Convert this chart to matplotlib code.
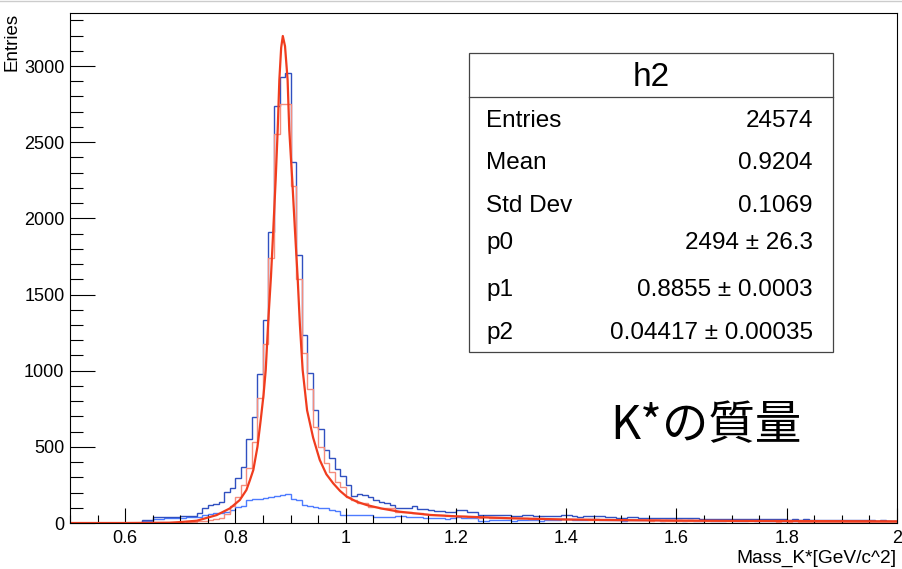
import numpy as np
import matplotlib
matplotlib.use('Agg')
import matplotlib.pyplot as plt
from matplotlib.ticker import MultipleLocator, FuncFormatter
from matplotlib.patches import Rectangle
from matplotlib.lines import Line2D

# Histogramm-Daten (Bins der Breite 0.01 von 0.5 bis 2.0)
bin_start = 0.5
bin_width = 0.01

total_counts = [0] * 13 + [
    20, 22, 40, 38, 41, 40, 42, 45, 46, 48,
    68, 96, 120, 126, 140, 205, 228, 293, 370, 549,
    698, 976, 1333, 1912, 2737, 2930, 2952, 2368, 1757, 1234,
    985, 740, 615, 479, 425, 352, 309, 249, 177, 190,
    184, 173, 151, 140, 129, 118, 96, 96, 96, 112, 90,
    90, 85, 80, 76, 72, 70, 86, 84, 75, 74, 50, 52, 54, 52, 54, 50,
    48, 48, 52, 51, 46, 46, 47, 48, 46, 50, 51, 47, 41, 44, 48, 45,
    43, 38, 41, 36, 35, 38, 41, 36, 35, 36, 35, 32, 36, 35, 31, 30,
    31, 30, 27, 29, 29, 25, 29, 29, 26, 23, 27, 27, 24, 25, 23, 24,
    25, 23, 20, 24, 21, 23, 22, 19, 21, 22, 19, 18, 20, 19, 19, 17,
    19, 18, 15, 19, 16, 14]

signal_counts = [0] * 20 + [
    3, 5, 8, 12, 15, 20, 25, 32, 58, 112,
    173, 249, 359, 534, 819, 1173, 1738, 2552, 2750, 2750,
    2212, 1603, 1114, 880, 632, 500, 392, 337, 271, 234,
    173, 151, 129, 129, 107, 107, 96, 96, 96, 74, 74, 74, 63, 63,
    60, 55, 52, 52, 48, 46, 45, 44, 42, 40, 36, 38, 36, 35, 34, 33,
    34, 30, 31, 29, 28, 30, 27, 26, 27, 25, 24, 25, 23, 24, 22, 21,
    22, 20, 21, 19, 20, 18, 19, 17, 18, 16, 17, 16, 15, 16, 14, 15,
    13, 14, 13, 12, 14, 12, 13, 11, 12, 11, 12, 10, 11, 10, 11, 10,
    9, 10, 9, 10, 9, 8, 9, 8, 9, 8, 7, 8, 7, 8, 7, 7,
    6, 7, 6, 7, 6, 6]

background_counts = [0] * 13 + [
    10, 15, 25, 28, 30, 30, 32, 36, 38, 40,
    42, 55, 58, 63, 66, 74, 85, 105, 112, 150,
    155, 160, 162, 172, 175, 184, 190, 160, 150, 118,
    110, 108, 96, 96, 85, 80, 55, 52, 50, 52,
    55, 52, 40, 38, 37, 37, 45, 45, 40, 37, 37,
    36, 34, 33, 30, 28, 30, 38, 36, 32, 30, 12, 16, 18, 17, 20, 17,
    14, 18, 20, 22, 18, 16, 20, 22, 19, 24, 27, 22, 18, 20, 26, 24,
    21, 18, 20, 17, 15, 20, 22, 19, 17, 20, 18, 16, 21, 19, 17, 15,
    18, 16, 14, 17, 15, 13, 16, 18, 14, 12, 15, 17, 13, 15, 12, 14,
    16, 13, 11, 14, 12, 15, 13, 11, 12, 14, 12, 10, 13, 11, 12, 10,
    13, 11, 9, 12, 10, 8]

# Fitkurve
fit_x = [0.50, 0.60, 0.68, 0.70, 0.73, 0.766, 0.79, 0.808, 0.82, 0.8264,
         0.8325, 0.840, 0.8459, 0.851, 0.855, 0.8597, 0.8645, 0.8687, 0.873, 0.8767,
         0.8797, 0.883, 0.886, 0.890, 0.8947, 0.8977, 0.9031, 0.908, 0.9128, 0.917,
         0.922, 0.930, 0.941, 0.953, 0.965, 0.9775, 0.99, 1.002, 1.02, 1.038,
         1.065, 1.098, 1.153, 1.20, 1.30, 1.40, 1.50, 1.60, 1.70, 1.80,
         1.90, 2.00]
fit_y = [0, 0, 2, 6, 15, 52, 96, 151, 217, 282,
         348, 500, 676, 840, 1004, 1333, 1617, 1923, 2252, 2580,
         2908, 3120, 3197, 3130, 2908, 2580, 2252, 1923, 1617, 1300,
         1004, 740, 560, 414, 320, 260, 210, 173, 140, 118,
         95, 74, 53, 44, 31, 23, 19, 16, 14, 13,
         12, 11]

# Statistik-Box
stat_names = ['Entries', 'Mean', 'Std Dev', 'p0', 'p1', 'p2']
stat_values = ['24574', '0.9204', '0.1069', '2494 ± 26.3', '0.8855 ± 0.0003', '0.04417 ± 0.00035']

plt.rcParams['font.family'] = ['Liberation Sans', 'DejaVu Sans']

W, H = 903, 569
fig = plt.figure(figsize=(W / 100, H / 100), dpi=100)

def fpos(x, y):
    return x / W, 1 - y / H

ax = fig.add_axes([70 / W, 46 / H, 827 / W, 510 / H])

edges = bin_start + bin_width * np.arange(len(total_counts) + 1)

ax.stairs(background_counts, edges, color='#4d7bff', lw=1.0)
ax.stairs(total_counts, edges, color='#3050c0', lw=1.0)
ax.stairs(signal_counts, edges, color='#f58c7c', lw=1.0)
ax.plot(fit_x, fit_y, color='#f03c1e', lw=1.6)

ax.set_xlim(0.5, 2.0)
ax.set_ylim(0, 3348)

# Achsen im ROOT-Stil
ax.xaxis.set_major_locator(MultipleLocator(0.2))
ax.xaxis.set_minor_locator(MultipleLocator(0.05))
ax.yaxis.set_major_locator(MultipleLocator(500))
ax.yaxis.set_minor_locator(MultipleLocator(100))
ax.xaxis.set_major_formatter(FuncFormatter(lambda v, p: '%g' % round(v, 2)))
ax.tick_params(axis='both', which='both', direction='in', top=False, right=False,
               labelsize=13, colors='black')
ax.tick_params(axis='y', which='major', length=18, width=0.8, pad=4)
ax.tick_params(axis='y', which='minor', length=9, width=0.8)
ax.tick_params(axis='x', which='major', length=11, width=0.8, pad=5)
ax.tick_params(axis='x', which='minor', length=5.5, width=0.8)
for s in ax.spines.values():
    s.set_linewidth(0.8)

fig.text(*fpos(897, 558), 'Mass_K*[GeV/c^2]', ha='right', va='center', fontsize=13.8)
fig.text(*fpos(12, 13), 'Entries', ha='center', va='top', rotation=90, fontsize=13.5)

# Box
x0, x1, y0, y1 = 469, 833, 53, 352
fig.add_artist(Rectangle(fpos(x0, y1), (x1 - x0) / W, (y1 - y0) / H,
                         transform=fig.transFigure, fc='white', ec='#444444', lw=0.9, zorder=5))
fig.add_artist(Line2D([x0 / W, x1 / W], [1 - 97 / H, 1 - 97 / H],
                      transform=fig.transFigure, color='#444444', lw=0.9, zorder=6))
fig.text(*fpos(651, 77), 'h2', ha='center', va='center', fontsize=24, zorder=7)

row_y = [121, 163, 206, 243, 290, 333]
for name, val, yy in zip(stat_names, stat_values, row_y):
    fig.text(*fpos(486, yy), name, ha='left', va='center', fontsize=17.5, zorder=7)
    fig.text(*fpos(813, yy), val, ha='right', va='center', fontsize=17.5, zorder=7)

fig.text(*fpos(610, 426), 'K*の質量', ha='left', va='center', fontsize=33.5,
         family=['Noto Sans CJK JP', 'DejaVu Sans'])

# Rahmen oben (Canvas)
fig.add_artist(Line2D([0, 1], [1 - 0.5 / H, 1 - 0.5 / H], transform=fig.transFigure,
                      color='#cccccc', lw=1))

fig.savefig('out.png', dpi=100)
